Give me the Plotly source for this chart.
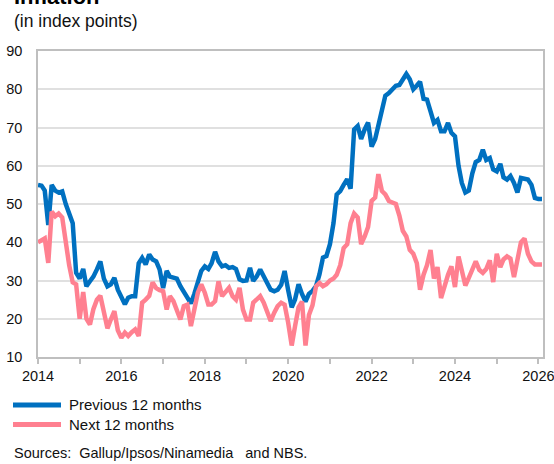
import pandas as pd
import plotly.graph_objects as go

# ---- data (monthly, Jan 2014 .. Feb 2026) ----
start_month = "2014-01-01"
previous_12m = [
    55, 54.8, 53.5, 44.5, 55, 53.5, 53, 53.3, 50, 47.5, 45, 32,
    30.5, 33, 28.5, 29.8, 31, 32.9, 35, 30.5, 28.5, 29, 30.7, 27.6,
    25.5, 23.8, 25.5, 25.9, 25.9, 34.5, 35.9, 34.2, 36.8, 35.5, 35, 32.9,
    28, 32.5, 31, 30.7, 30.5, 28.5, 27, 25.5, 24, 26.5, 30, 32.5,
    33.7, 33, 34.5, 37.5, 35, 33.7, 34, 33.3, 33.5, 33, 30.3, 29.9,
    30, 33.3, 29.9, 31.1, 32.9, 31, 29.4, 27.6, 27.2, 27.6, 28.9, 32.5,
    27.5, 23, 25, 29, 26.5, 24.5, 26.5, 27.3, 28.5, 31.6, 36, 36.4,
    39.5, 45, 52.5, 53.4, 55, 56.5, 54, 69.5, 70.4, 67, 69.5, 71.3,
    65, 67, 70.5, 74, 78.3, 79, 80, 80.9, 81.1, 82.6, 84, 82.6,
    80, 81, 82, 77.5, 77.3, 74.2, 71.2, 72, 69, 69, 71.2, 68.6,
    67.7, 60, 55.5, 53, 53.5, 58, 61, 61.5, 64.2, 61.5, 62, 59,
    58.5, 60.5, 57, 56.4, 57.3, 55.5, 53, 56.8, 56.5, 56.4, 55, 51.6,
    51.3, 51.3,
]
next_12m = [
    40, 40.7, 41, 34.6, 48, 46.8, 47.5, 46.5, 40, 34, 29.5, 29,
    20, 27, 20, 18.5, 22.5, 25, 26, 21.5, 17.5, 19.8, 22, 17,
    15, 16.4, 15.5, 16.5, 17.2, 15.5, 24.2, 25, 26, 29.5, 28, 27.5,
    27.2, 22.4, 25.9, 24.6, 22, 19.8, 23.3, 23.7, 18.1, 22.4, 26.8, 29,
    26.8, 23.7, 23.7, 24.6, 29.8, 25.9, 26.8, 28.1, 25.9, 25, 28.1, 22.4,
    19.8, 19.8, 24.2, 25, 25.9, 24.2, 21.6, 19.4, 21.6, 23.3, 24.2, 23.7,
    19, 13, 18, 23, 24.5, 13, 21, 23.5, 28.5, 29.4, 28.5, 29,
    30, 30.5, 31.5, 34, 38.5, 39.5, 45, 47.5, 46.5, 39.5, 41.5, 44,
    50.8, 51.7, 57.8, 53.4, 52.5, 50.8, 50.4, 50, 47, 43, 41.5, 38,
    37, 34.5, 27.6, 31.5, 34, 38, 30.5, 33.5, 25.4, 28.5, 31.5, 33.7,
    28.3, 36.3, 32, 28.7, 30.7, 33, 35, 32.8, 32, 33, 35.3, 29.6,
    37, 33.5, 35.5, 36.3, 35.7, 30.9, 36, 40, 41, 37, 35, 34.2,
    34.2, 34.2,
]
series_names = ["Previous 12 months", "Next 12 months"]
title_text = "Inflation"
subtitle_text = "(in index points)"
source_text = "Sources:&nbsp; Gallup/Ipsos/Ninamedia&nbsp;&nbsp; and NBS."

dates = pd.date_range(start_month, periods=len(previous_12m), freq="MS")

W, H = 554, 464
L, R, T, B = 38, 11, 51, 107
PW, PH = W - L - R, H - T - B

def px_x(x):
    return (x - L) / PW

def px_y(y):
    return (H - B - y) / PH

BLUE = "#0070C0"
PINK = "#FF8090"
FONT = "Liberation Sans, Arial, sans-serif"

fig = go.Figure()
fig.add_trace(go.Scatter(x=dates, y=previous_12m, mode="lines", name=series_names[0],
                         line=dict(color=BLUE, width=4.5), showlegend=False))
fig.add_trace(go.Scatter(x=dates, y=next_12m, mode="lines", name=series_names[1],
                         line=dict(color=PINK, width=4.5), showlegend=False))

fig.update_layout(
    width=W, height=H,
    margin=dict(l=L, r=R, t=T, b=B, autoexpand=False),
    paper_bgcolor="white", plot_bgcolor="white",
    font=dict(family=FONT, size=14.5, color="#111"),
    showlegend=False,
)
fig.update_xaxes(
    type="date", range=["2014-01-01", "2026-02-10"], automargin=False,
    tick0="2014-01-01", dtick="M12", ticklabelstep=2, tickformat="%Y",
    ticks="outside", ticklen=5, tickwidth=1.5, tickcolor="#BFBFBF",
    ticklabeloverflow="allow",
    showgrid=False, showline=True, linecolor="#BFBFBF", linewidth=1.5, mirror=True,
    tickfont=dict(size=14.5, color="#111"),
)
fig.update_yaxes(
    range=[10, 90], dtick=10, tick0=10, automargin=False,
    showgrid=True, gridcolor="#E0E0E0", gridwidth=1.5,
    showline=True, linecolor="#BFBFBF", linewidth=1.5, mirror=True,
    ticks="", ticklabelstandoff=11, zeroline=False,
    tickfont=dict(size=14.5, color="#111"),
)

# title (cut off at top), subtitle, legend, source
ann = []
ann.append(dict(text="<b>" + title_text + "</b>", x=px_x(12), y=px_y(-3), xref="paper", yref="paper",
                xanchor="left", yanchor="middle", showarrow=False, font=dict(size=22, color="#000")))
ann.append(dict(text=subtitle_text, x=px_x(12), y=px_y(21), xref="paper", yref="paper",
                xanchor="left", yanchor="middle", showarrow=False, font=dict(size=17.5, color="#111")))
legend_y = [405, 424.5]
colors = [BLUE, PINK]
shapes = []
for name, yy, c in zip(series_names, legend_y, colors):
    shapes.append(dict(type="line", xref="paper", yref="paper",
                       x0=px_x(13), x1=px_x(61), y0=px_y(yy), y1=px_y(yy),
                       line=dict(color=c, width=5)))
    ann.append(dict(text=name, x=px_x(67), y=px_y(yy), xref="paper", yref="paper",
                    xanchor="left", yanchor="middle", showarrow=False, font=dict(size=15, color="#111")))
ann.append(dict(text=source_text, x=px_x(12), y=px_y(453), xref="paper", yref="paper",
                xanchor="left", yanchor="middle", showarrow=False, font=dict(size=14.5, color="#111")))
fig.update_layout(annotations=ann, shapes=shapes)

fig.write_html("out.html", config={"displayModeBar": False},
               post_script="document.body.style.margin='0px';")
